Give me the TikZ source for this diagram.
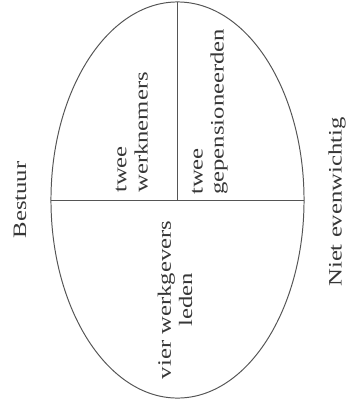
\documentclass[tikz,border=0pt]{standalone}
\usepackage{fontspec}
\setmainfont[FakeStretch=1.3]{Liberation Serif}
\usetikzlibrary{shapes.geometric}
\begin{document}
\begin{tikzpicture}[x=0.025cm, y=-0.025cm]
    \definecolor{mylijn}{RGB}{85,85,85}
    \definecolor{mytekst}{RGB}{55,55,55}
    \tikzset{lbl/.style={rotate=90, inner sep=0pt, text=mytekst, font=\fontsize{13.5}{15}\selectfont}}

    \useasboundingbox (0,0) rectangle (348,409);
    \node[draw=mylijn, line width=0.7pt, ellipse, inner sep=0pt, outer sep=0pt, minimum width=6.325cm, minimum height=9.9cm] (bestuur) at (177.5,200) {};
    \draw[mylijn, line width=0.7pt] (bestuur.west) -- (bestuur.east);
    \draw[mylijn, line width=0.7pt] (bestuur.north) -- (bestuur.center);

    \node[lbl, anchor=south west, align=left] (werknemers) at (148,193) {twee\\werknemers};
    \node[lbl, anchor=south west, align=left] (gepensioneerden) at (228,195) {twee\\gepensioneerden};
    \node[lbl, align=center] (werkgevers) at (175,300) {vier werkgevers\\leden};
    \node[lbl] (titel) at (20,200) {Bestuur};
    \node[lbl] (oordeel) at (337,202) {Niet evenwichtig};
\end{tikzpicture}
\end{document}
